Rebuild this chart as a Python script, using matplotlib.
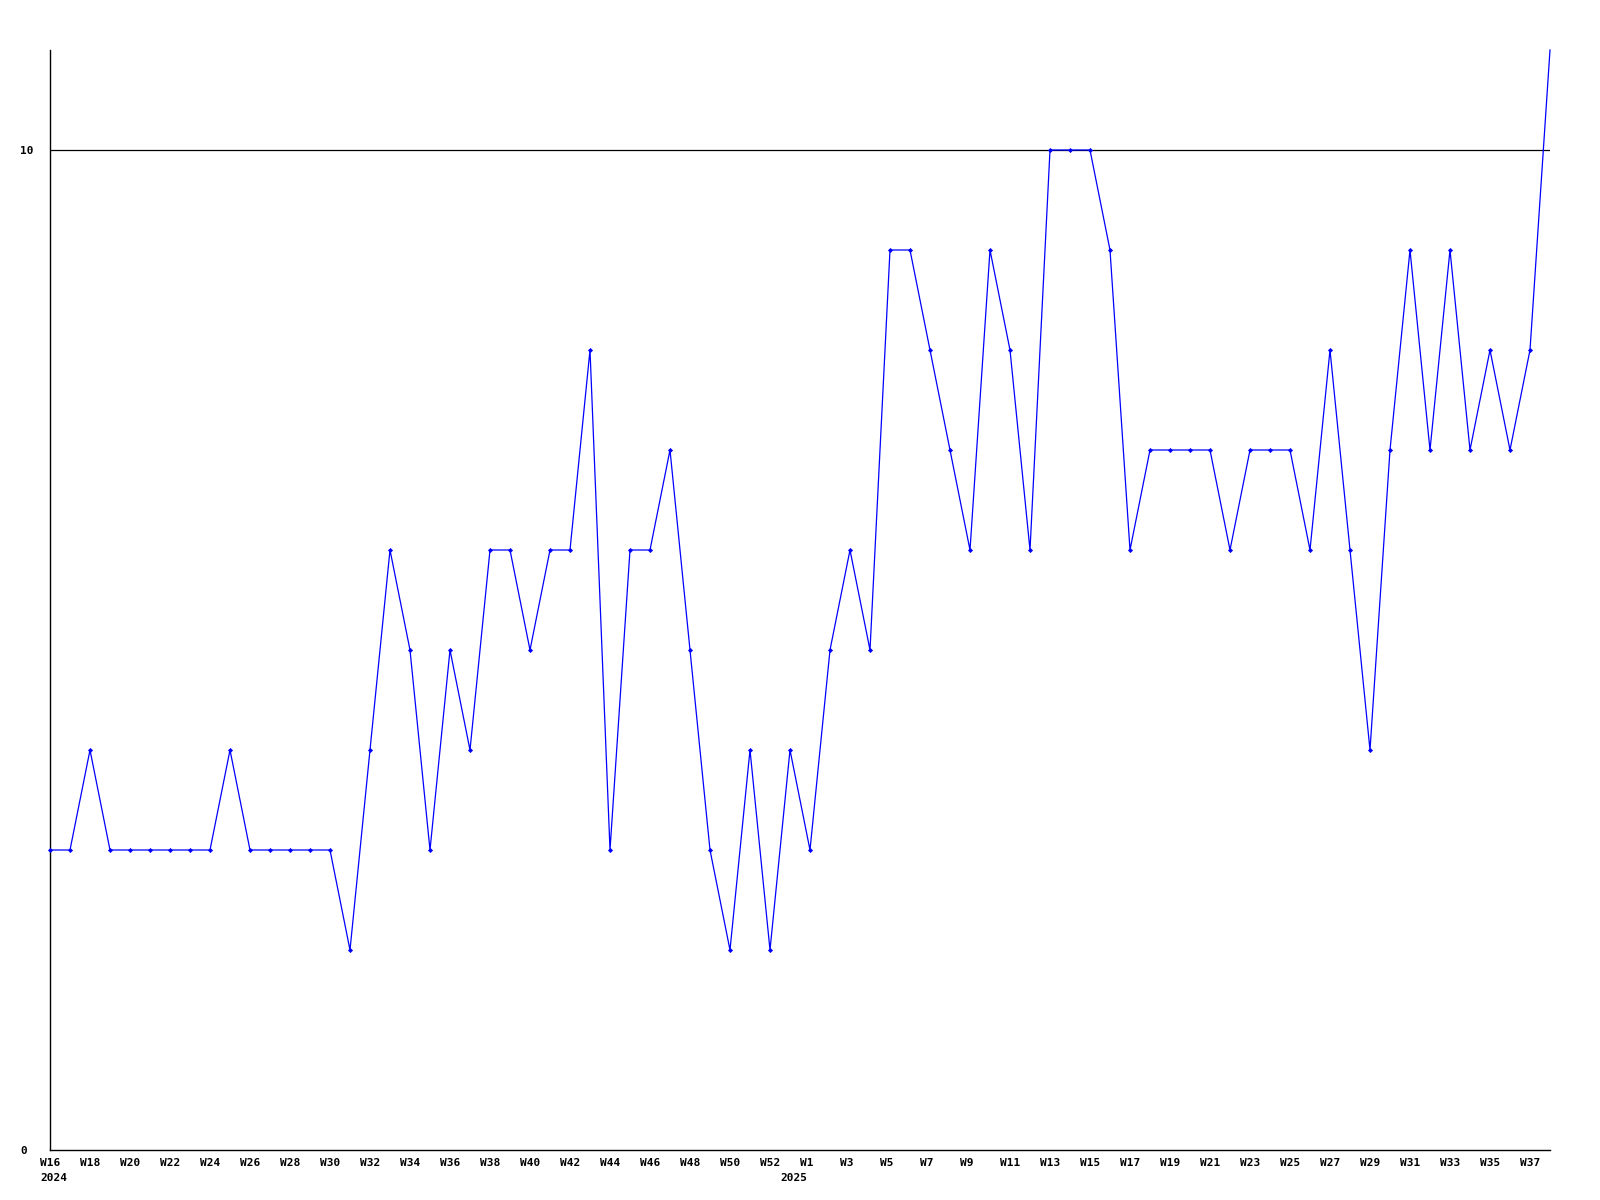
import matplotlib
matplotlib.use("Agg")
import matplotlib.pyplot as plt
import matplotlib.transforms as mtransforms

# Weekly series: 2024 W16..W53, then 2025 W1..W38
weeks_2024 = list(range(16, 54))
weeks_2025 = list(range(1, 39))
values = [3, 3, 4, 3, 3, 3, 3, 3, 3, 4, 3, 3, 3, 3, 3, 2, 4, 6, 5, 3,
          5, 4, 6, 6, 5, 6, 6, 8, 3, 6, 6, 7, 5, 3, 2, 4, 2, 4, 3, 5,
          6, 5, 9, 9, 8, 7, 6, 9, 8, 6, 10, 10, 10, 9, 6, 7, 7, 7, 7, 6,
          7, 7, 7, 6, 8, 6, 4, 7, 9, 7, 9, 7, 8, 7, 8, 11]
labels_2024 = [f"W{w}" for w in range(16, 53, 2)]
labels_2025 = [f"W{w}" for w in range(1, 38, 2)]
year_labels = ["2024", "2025"]
y_ticks = [0, 10]

x = list(range(len(values)))
pos_2024 = [weeks_2024.index(w) for w in range(16, 53, 2)]
pos_2025 = [len(weeks_2024) + weeks_2025.index(w) for w in range(1, 38, 2)]
year_pos = [0, len(weeks_2024) - 1]

fig = plt.figure(figsize=(16, 12), dpi=100)
ax = fig.add_axes([50 / 1600, 50 / 1200, 1500 / 1600, 1100 / 1200])

ax.plot(x, values, color="#0000ff", lw=0.9, marker="D", markersize=2.6,
        markeredgewidth=0, markevery=list(range(len(values) - 1)),
        clip_on=False, zorder=3)
ax.axhline(10, color="black", lw=0.9, zorder=2)

ax.set_xlim(0, len(values) - 1)
ax.set_ylim(0, 11)

for s in ["top", "right"]:
    ax.spines[s].set_visible(False)
for s in ["left", "bottom"]:
    ax.spines[s].set_linewidth(1.0)

font = dict(family="DejaVu Sans Mono", weight="bold", size=8)
ax.set_xticks([])
ax.set_yticks(y_ticks)
ax.set_yticklabels([str(v) for v in y_ticks], fontdict=font, ha="left")
ax.tick_params(axis="y", length=0, pad=21.5)

trans = mtransforms.blended_transform_factory(ax.transData, ax.transAxes)
off = mtransforms.offset_copy(trans, fig=fig, x=0, y=-8 / 100, units="inches")
off2 = mtransforms.offset_copy(trans, fig=fig, x=0, y=-23 / 100, units="inches")
for p, lab in zip(pos_2024 + pos_2025, labels_2024 + labels_2025):
    ax.text(p - 0.5, 0, lab, transform=off, ha="left", va="top",
            clip_on=False, **font)
for p, lab in zip(year_pos, year_labels):
    ax.text(p - 0.5, 0, lab, transform=off2, ha="left", va="top",
            clip_on=False, **font)

fig.savefig("out.png", dpi=100)
